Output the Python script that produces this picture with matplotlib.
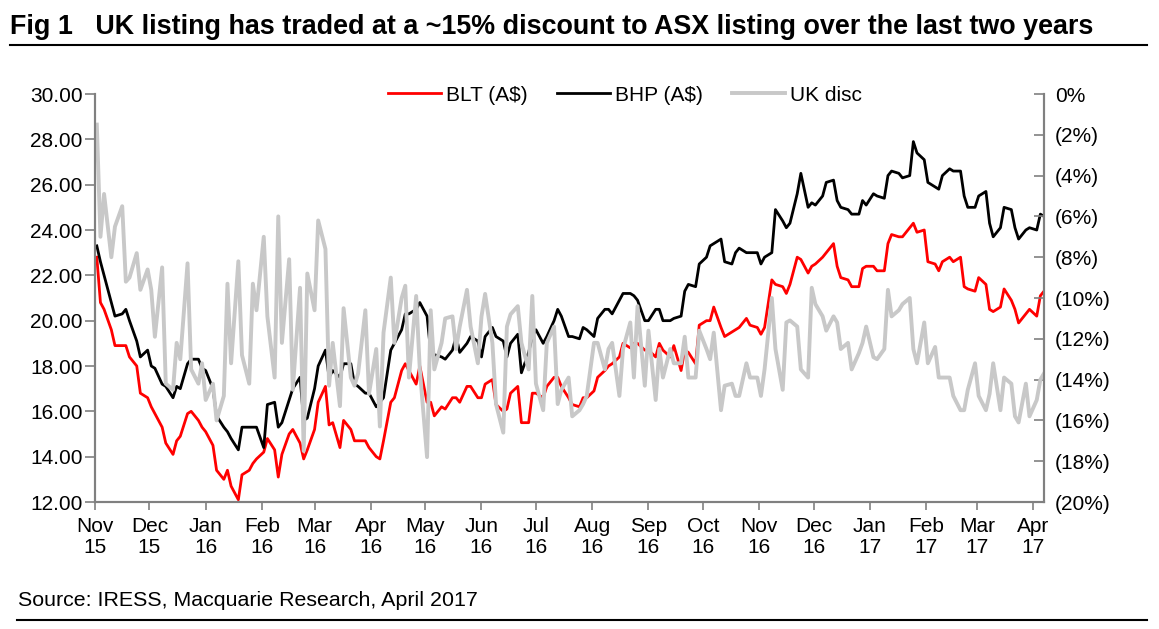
import matplotlib
matplotlib.use("Agg")
import matplotlib.pyplot as plt
from matplotlib.lines import Line2D
from matplotlib.ticker import FuncFormatter
import pandas as pd
import numpy as np

plt.rcParams['font.family'] = ['Liberation Sans', 'DejaVu Sans']

# sample dates: every second business day, Nov 2015 - Apr 2017
dates = pd.bdate_range('2015-11-02', '2017-04-07')[::2]

blt = [
    22.8, 20.8, 20.5, 19.6, 18.9, 18.9, 18.9, 18.4, 18.0, 16.8, 16.6, 16.2, 15.9, 15.3, 14.6, 14.1, 14.7, 14.9, 15.9, 16.0, 15.6, 15.3, 15.1,
    14.5, 13.4, 13.0, 13.4, 12.7, 12.1, 13.2, 13.4, 13.7, 13.9, 14.2, 14.8, 14.3, 13.1, 14.1, 15.0, 15.2, 14.6, 13.9, 14.3, 15.2, 16.4, 17.1,
    15.4, 15.5, 14.4, 15.6, 15.2, 14.7, 14.7, 14.7, 14.4, 14.0, 13.9, 14.7, 16.4, 16.6, 17.8, 18.1, 17.8, 17.2, 18.0, 16.4, 16.4, 15.8, 16.2,
    16.1, 16.6, 16.6, 16.4, 17.1, 17.1, 16.6, 16.6, 17.2, 17.4, 16.3, 16.0, 16.1, 16.8, 17.1, 15.5, 15.5, 16.8, 16.8, 16.6, 17.1, 17.5, 17.5,
    17.1, 16.6, 16.3, 16.2, 16.6, 16.6, 16.9, 17.5, 17.8, 18.0, 18.1, 18.4, 19.0, 18.8, 19.0, 19.0, 18.7, 18.7, 18.4, 19.0, 18.7, 18.4, 18.9,
    17.8, 18.7, 18.6, 18.1, 19.8, 20.0, 20.0, 20.6, 19.7, 19.3, 19.5, 19.6, 19.7, 20.1, 19.8, 19.7, 19.4, 19.7, 21.8, 21.6, 21.5, 21.2, 21.6,
    22.8, 22.7, 22.1, 22.4, 22.5, 22.8, 23.0, 23.4, 22.4, 21.9, 21.8, 21.5, 21.5, 22.3, 22.4, 22.4, 22.2, 22.2, 23.4, 23.8, 23.7, 23.7, 24.1,
    24.3, 23.9, 24.0, 22.6, 22.5, 22.2, 22.6, 22.8, 22.6, 22.8, 21.5, 21.4, 21.3, 21.9, 21.6, 20.5, 20.4, 20.6, 21.4, 20.9, 20.5, 19.9, 20.3,
    20.5, 20.2, 21.1, 21.3,
]

bhp = [
    23.3, 22.6, 22.0, 20.8, 20.2, 20.3, 20.5, 20.0, 19.1, 18.4, 18.7, 18.0, 17.9, 17.2, 17.1, 16.6, 17.1, 17.0, 18.1, 18.3, 18.3, 17.9, 17.8,
    17.0, 15.8, 15.3, 15.1, 14.8, 14.3, 15.3, 15.3, 15.3, 15.3, 14.4, 16.3, 16.4, 15.3, 15.5, 16.5, 17.0, 17.5, 15.6, 15.7, 17.0, 18.0, 18.7,
    17.5, 17.8, 17.5, 18.1, 18.1, 17.2, 17.1, 16.8, 16.8, 16.2, 16.4, 16.6, 18.7, 19.0, 19.6, 20.3, 20.3, 20.5, 20.8, 20.2, 18.6, 18.5, 18.4,
    18.3, 18.7, 19.3, 18.6, 19.0, 19.3, 19.1, 18.4, 19.3, 19.7, 19.3, 19.1, 18.4, 19.0, 19.4, 17.7, 18.6, 19.3, 19.6, 19.0, 19.3, 20.0, 20.5,
    20.2, 19.3, 19.3, 19.2, 19.7, 19.6, 19.3, 20.1, 20.5, 20.5, 20.3, 20.9, 21.2, 21.2, 21.1, 20.9, 20.0, 20.0, 20.5, 20.5, 20.0, 20.0, 20.1,
    20.2, 21.3, 21.6, 21.5, 22.5, 22.8, 23.3, 23.4, 23.6, 22.6, 22.5, 23.0, 23.2, 23.0, 23.0, 23.0, 22.5, 22.8, 23.0, 24.9, 24.4, 24.1, 24.3,
    25.6, 26.5, 25.0, 25.2, 25.1, 25.5, 26.1, 26.2, 25.3, 25.0, 24.9, 24.7, 24.7, 25.3, 25.1, 25.6, 25.5, 25.4, 26.4, 26.6, 26.5, 26.3, 26.4,
    27.9, 27.4, 27.1, 26.1, 25.9, 25.8, 26.4, 26.7, 26.6, 26.6, 25.5, 25.0, 25.0, 25.5, 25.7, 24.3, 23.7, 24.1, 25.0, 24.9, 24.1, 23.6, 24.0,
    24.1, 24.0, 24.7, 24.6,
]

uk_disc = [
    -1.5, -7.0, -4.9, -8.0, -6.5, -5.5, -9.2, -9.0, -7.8, -9.6, -8.6, -9.6, -11.9, -8.5, -14.2, -14.5, -12.2, -13.0, -8.3, -13.5, -14.2, -13.2, -15.0,
    -14.2, -16.0, -14.8, -9.3, -13.2, -8.2, -12.8, -14.2, -9.3, -10.6, -7.0, -10.9, -13.9, -6.0, -12.2, -8.1, -14.5, -9.5, -17.5, -8.8, -10.6, -6.2, -7.6,
    -14.3, -12.2, -15.3, -10.5, -13.9, -14.3, -13.7, -10.6, -14.7, -12.5, -16.3, -11.7, -9.0, -12.2, -10.0, -9.4, -13.9, -9.9, -13.5, -17.8, -10.6, -13.5, -12.2,
    -11.0, -10.9, -12.5, -11.4, -9.6, -11.4, -13.2, -10.9, -9.8, -12.2, -15.2, -16.6, -11.4, -10.8, -10.4, -12.2, -13.5, -9.9, -14.2, -15.5, -12.2, -11.4, -15.2,
    -14.5, -13.9, -15.8, -15.5, -15.2, -14.8, -12.2, -12.2, -13.5, -12.5, -12.2, -14.8, -12.5, -11.2, -13.9, -10.4, -14.3, -11.6, -15.0, -12.5, -13.9, -12.5, -13.2,
    -13.2, -11.9, -13.9, -13.9, -11.6, -12.5, -13.0, -11.7, -15.5, -14.3, -14.2, -14.8, -14.8, -13.2, -13.9, -13.9, -14.8, -13.5, -10.0, -12.5, -14.5, -11.2, -11.1,
    -11.4, -13.5, -13.9, -9.5, -10.3, -10.9, -11.6, -10.9, -11.2, -12.5, -12.2, -13.5, -12.7, -12.2, -11.4, -12.9, -13.0, -12.5, -9.6, -10.9, -10.6, -10.3, -10.0,
    -12.5, -13.2, -11.2, -13.2, -12.4, -13.9, -13.9, -13.9, -14.8, -15.5, -15.5, -14.5, -13.2, -14.8, -15.5, -14.7, -13.2, -15.5, -13.9, -14.2, -15.8, -16.1, -14.2,
    -15.8, -15.0, -14.0, -13.7,
]

month_ticks = pd.date_range('2015-11-01', '2017-04-01', freq='MS')
month_labels = [d.strftime('%b\n%y') for d in month_ticks]
left_ticks = np.arange(12, 30.01, 2)
right_ticks = np.arange(-20, 0.01, 2)

title = 'Fig 1   UK listing has traded at a ~15% discount to ASX listing over the last two years'
source = 'Source: IRESS, Macquarie Research, April 2017'

W, H = 1159, 629
fig = plt.figure(figsize=(W / 100, H / 100), dpi=100)
ax = fig.add_axes([95 / W, 1 - 502 / H, (1044 - 95) / W, (502 - 94) / H])
ax2 = ax.twinx()

l1, = ax.plot(dates[:len(blt)], blt, color='#ff0000', lw=2.0, label='BLT (A$)')
l2, = ax.plot(dates[:len(bhp)], bhp, color='black', lw=2.0, label='BHP (A$)')
l3, = ax2.plot(dates[:len(uk_disc)], uk_disc, color='#c8c8c8', lw=2.8, label='UK disc')

ax.set_xlim(pd.Timestamp('2015-11-01'), pd.Timestamp('2017-04-07'))
ax.set_ylim(12, 30)
ax2.set_ylim(-20, 0)
ax.set_xticks(month_ticks)
ax.set_xticklabels(month_labels)
ax.set_yticks(left_ticks)
ax.yaxis.set_major_formatter(FuncFormatter(lambda v, p: f'{v:.2f}'))
ax2.set_yticks(right_ticks)
ax2.yaxis.set_major_formatter(FuncFormatter(lambda v, p: '0%' if abs(v) < 1e-9 else f'({abs(v):.0f}%)'))

fs = 15
spine_col = '#808080'
for a in (ax, ax2):
    a.spines['top'].set_visible(False)
    for s in ('left', 'right', 'bottom'):
        a.spines[s].set_color(spine_col)
        a.spines[s].set_linewidth(1.5)
ax.tick_params(axis='y', direction='out', length=7, width=1.2, color=spine_col, labelsize=fs, pad=2)
ax.tick_params(axis='x', direction='out', length=6, width=1.2, color=spine_col, labelsize=fs, pad=5)
ax2.tick_params(axis='y', direction='in', length=7, width=1.2, color=spine_col, labelsize=fs, pad=8)
for lab in ax.get_xticklabels():
    lab.set_linespacing(1.1)

ax2.legend([l1, l2, l3], [l1.get_label(), l2.get_label(), l3.get_label()],
           loc='center', bbox_to_anchor=(0.5585, 0.997), ncol=3, frameon=False,
           fontsize=fs, handlelength=2.55, handletextpad=0.25, columnspacing=1.4)

fig.text(10 / W, 1 - 27 / H, title, fontsize=19.4, fontweight='bold', ha='left', va='center')
fig.add_artist(Line2D([10 / W, 1147 / W], [1 - 45 / H] * 2, color='black', lw=1.5, transform=fig.transFigure))
fig.text(18 / W, 1 - 601 / H, source, fontsize=15.4, ha='left', va='center')
fig.add_artist(Line2D([17 / W, 1147 / W], [1 - 620 / H] * 2, color='black', lw=1.5, transform=fig.transFigure))

fig.savefig('out.png', dpi=100)
